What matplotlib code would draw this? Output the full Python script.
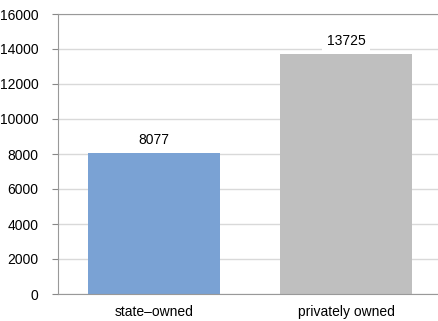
import matplotlib.pyplot as plt

categories = ["state\u2013owned", "privately owned"]
values = [8077, 13725]
colors = ["#7AA2D4", "#BFBFBF"]
yticks = [0, 2000, 4000, 6000, 8000, 10000, 12000, 14000, 16000]

plt.rcParams['font.family'] = ['Liberation Sans', 'DejaVu Sans']

W, H = 438, 321
fig = plt.figure(figsize=(W / 100, H / 100), dpi=100)
ax = fig.add_axes([58 / W, 1 - 294 / H, 380 / W, 280 / H])

x = list(range(len(categories)))
ax.bar(x, values, width=0.6875, color=colors, zorder=2)

for xi, v in zip(x, values):
    ax.annotate(str(v), (xi, v), xytext=(0, 4), textcoords='offset points',
                ha='center', va='bottom', fontsize=10, zorder=3,
                bbox=dict(facecolor='white', edgecolor='none', pad=3))

ax.set_xlim(-0.5, 1.479)
ax.set_ylim(0, 16000)
ax.set_yticks(yticks)
ax.set_xticks(x)
ax.set_xticklabels(categories, fontsize=10)
ax.tick_params(axis='y', labelsize=10, length=4, color='#888888', pad=10)
ax.tick_params(axis='x', length=0, pad=8)
ax.yaxis.grid(True, color='#D9D9D9', linewidth=1, zorder=0)
ax.set_axisbelow(True)

for s in ['left', 'bottom', 'top']:
    ax.spines[s].set_color('#999999')
ax.spines['right'].set_visible(False)

fig.savefig('out.png', dpi=100)
